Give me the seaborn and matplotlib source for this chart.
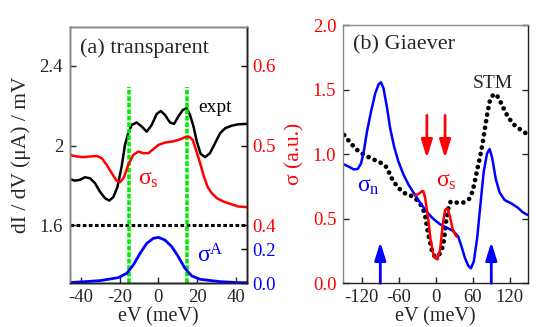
import numpy as np
import pandas as pd
import matplotlib
matplotlib.use("Agg")
import matplotlib.pyplot as plt
import seaborn as sns

# ---------------- data: panel (a) transparent ----------------
a_expt_x = [-45.5, -42.9, -40.4, -37.8, -35.2, -32.6, -30.1, -27.5, -25.3, -23.2, -21.1, -18.9,
            -17.2, -15.5, -13.7, -11.2, -8.6, -6.0, -3.4, -0.85, 1.2, 3.4, 6.0, 8.1, 10.3,
            12.6, 14.6, 16.3, 18.1, 19.8, 21.8, 24.1, 26.6, 29.2, 31.8, 34.4, 37.8, 41.2, 45.5]
a_expt_y = [1.831, 1.824, 1.828, 1.841, 1.836, 1.811, 1.769, 1.736, 1.724, 1.741, 1.791, 1.895,
            2.003, 2.062, 2.104, 2.116, 2.096, 2.070, 2.104, 2.159, 2.174, 2.154, 2.116, 2.109, 2.146,
            2.179, 2.188, 2.154, 2.096, 2.020, 1.958, 1.942, 1.962, 2.012, 2.062, 2.087, 2.100, 2.107, 2.109]

a_sigs_x = [-45.5, -42.1, -38.6, -35.2, -31.8, -29.2, -26.6, -24.0, -21.5, -19.7, -17.7, -15.5,
            -12.9, -10.3, -7.7, -5.1, -2.6, 0.0, 3.4, 6.9, 10.3, 13.8, 15.8, 17.7, 19.4, 21.5,
            23.2, 25.3, 27.5, 30.1, 33.5, 37.0, 41.2, 45.5]
a_sigs_y = [0.4883, 0.4863, 0.4855, 0.4863, 0.4870, 0.4843, 0.4758, 0.4653, 0.4560, 0.4540, 0.4603, 0.4758,
            0.4883, 0.4925, 0.4905, 0.4905, 0.4955, 0.5008, 0.5038, 0.5050, 0.5070, 0.5105, 0.5113, 0.5070,
            0.4945, 0.4780, 0.4633, 0.4485, 0.4403, 0.4340, 0.4298, 0.4268, 0.4235, 0.4228]

a_sigA_x = [-45.5, -40.4, -30.1, -20.6, -16.3, -12.9, -9.4, -6.0, -2.6, 0.0, 3.4, 6.9, 10.3,
            13.7, 17.2, 21.5, 31.8, 42.1, 45.5]
a_sigA_y = [0.003, 0.006, 0.014, 0.032, 0.057, 0.107, 0.176, 0.235, 0.265, 0.271, 0.255, 0.216, 0.156,
            0.087, 0.042, 0.022, 0.008, 0.002, 0.002]

a_gap_edges = [-15, 15]
a_baseline = 1.6
a_xticks = [-40, -20, 0, 20, 40]
a_left_ticks = [1.6, 2.0, 2.4]
a_left_ticklabels = ["1.6", "2", "2.4"]
a_red_ticks = [0.4, 0.5, 0.6]
a_blue_ticks = [0.0, 0.2]

# ---------------- data: panel (b) Giaever ----------------
b_sign_x = [-149.1, -141.1, -133.0, -126.6, -121.2, -116.9, -111.6, -105.1, -98.2, -92.8, -89.0,
            -84.8, -79.4, -74.0, -67.6, -60.6, -52.6, -44.5, -35.4, -25.8, -15.1, -4.3, 6.9, 17.6,
            28.4, 36.4, 41.8, 47.1, 52.5, 56.8, 61.6, 67.0, 72.3, 77.7, 83.1, 87.3, 91.6, 97.0,
            103.4, 111.5, 122.2, 132.9, 141.0, 149.0]
b_sign_y = [0.921, 0.903, 0.882, 0.885, 0.929, 1.019, 1.174, 1.329, 1.471, 1.541, 1.556,
            1.510, 1.368, 1.200, 1.058, 0.942, 0.844, 0.766, 0.697, 0.627, 0.555, 0.500, 0.457, 0.431,
            0.405, 0.361, 0.284, 0.198, 0.137, 0.116, 0.168, 0.348, 0.606, 0.864, 1.006, 1.040, 0.968, 0.813,
            0.704, 0.645, 0.619, 0.586, 0.550, 0.529]

b_stm_x = [-148.6, -137.9, -127.0, -115.9, -100.4, -88.0, -80.0, -71.4, -62.7, -56.9, -49.4, -41.9,
           -33.0, -26.8, -21.0, -17.2, -13.5, -10.2, -6.5, -2.0, 4.0, 9.6, 13.3, 16.6, 20.3, 24.1,
           33.7, 44.4, 54.1, 59.5, 63.2, 67.0, 71.3, 75.5, 79.3, 83.1, 87.3, 92.7, 98.1, 103.4,
           109.9, 116.8, 126.0, 134.5, 143.6, 149.0]
b_stm_y = [1.148, 1.084, 1.030, 0.993, 0.958, 0.930, 0.900, 0.813, 0.748, 0.722, 0.695, 0.684,
           0.655, 0.627, 0.580, 0.520, 0.413, 0.335, 0.258, 0.210, 0.210, 0.258, 0.335, 0.477, 0.581, 0.632,
           0.625, 0.625, 0.653, 0.710, 0.787, 0.877, 0.968, 1.071, 1.187, 1.303, 1.406, 1.458, 1.463, 1.419,
           1.355, 1.290, 1.231, 1.200, 1.169, 1.153]

b_sigs_x = [-33.8, -26.8, -22.0, -20.0, -17.2, -14.5, -11.9, -8.6, -6.5, -4.3, -1.1, 2.6, 6.9,
            11.2, 15.0, 18.7, 23.0, 27.3, 31.0, 34.0]
b_sigs_y = [0.679, 0.695, 0.715, 0.712, 0.660, 0.570, 0.480, 0.340, 0.290, 0.230, 0.195, 0.185, 0.258,
            0.452, 0.568, 0.581, 0.516, 0.420, 0.380, 0.360]

b_red_arrow_x = [-14.5, 15]
b_red_arrow_from, b_red_arrow_to = 1.30, 0.97
b_blue_arrow_x = [-90, 90]
b_blue_arrow_from, b_blue_arrow_to = 0.0, 0.32
b_xticks = [-120, -60, 0, 60, 120]
b_yticks = [0.0, 0.5, 1.0, 1.5, 2.0]

# ---------------- style ----------------
sns.set_theme(style="ticks")
plt.rcParams["font.family"] = ["Liberation Serif", "DejaVu Serif"]
plt.rcParams["mathtext.fontset"] = "custom"
plt.rcParams["mathtext.rm"] = "Liberation Serif"
plt.rcParams["mathtext.it"] = "Liberation Serif:italic"

RED = "#ff0000"
BLUE = "#0000ff"
GREEN = "#00ee00"
TICK_FS = 13.5
LAB_FS = 15.5
XLAB_FS = 14.5

fig = plt.figure(figsize=(5.45, 3.27), dpi=100)
W, H = 545, 327

def px_axes(l, t, r, b):
    return fig.add_axes([l / W, 1 - b / H, (r - l) / W, (b - t) / H])

def style_spines(a_):
    for s in a_.spines.values():
        s.set_linewidth(1.0)
        s.set_color("#222222")
    a_.spines["left"].set_color("#888888")
    a_.spines["top"].set_color("#888888")

# ---------------- panel (a) ----------------
ax = px_axes(70, 26.7, 246.7, 283)
left_lim = (1.31, 2.597)
to_red = lambda v: 0.4 + (v - 1.6) / 4.0
axr = ax.twinx()
axb = ax.twinx()

sns.lineplot(x=a_expt_x, y=a_expt_y, ax=ax, color="black", lw=1.8)
sns.lineplot(x=a_sigs_x, y=a_sigs_y, ax=axr, color=RED, lw=1.8)
sns.lineplot(x=a_sigA_x, y=a_sigA_y, ax=axb, color=BLUE, lw=2.0)

ax.axhline(a_baseline, color="black", ls=(0, (1.2, 0.8)), lw=2.2)
ax.vlines(a_gap_edges, left_lim[0], 2.296, colors=GREEN, linestyles=(0, (1.3, 0.5)), lw=2.6)

ax.set_xlim(-45.5, 45.5)
ax.set_ylim(*left_lim)
axr.set_ylim(to_red(left_lim[0]), to_red(left_lim[1]))
axb.set_ylim(0, 0.2 * 256.3 / 33.7)

ax.set_xticks(a_xticks)
ax.set_xticklabels([str(t) for t in a_xticks])
ax.set_yticks(a_left_ticks)
ax.set_yticklabels(a_left_ticklabels)
axr.set_yticks(a_red_ticks)
axr.set_yticklabels([f"{t:.1f}" for t in a_red_ticks])
axb.set_yticks(a_blue_ticks)
axb.set_yticklabels([f"{t:.1f}" for t in a_blue_ticks])

ax.tick_params(axis="both", direction="in", length=4, width=1, labelsize=TICK_FS, pad=5)
ax.tick_params(axis="x", pad=4)
axr.tick_params(axis="y", direction="in", length=4, width=1, labelsize=TICK_FS, labelcolor=RED,
                color="black", pad=4)
axb.tick_params(axis="y", direction="in", length=4, width=1, labelsize=TICK_FS, labelcolor=BLUE,
                color="black", pad=4)
for a_ in (ax, axr, axb):
    style_spines(a_)

ax.set_xlabel("eV (meV)", fontsize=XLAB_FS)
ax.xaxis.label.set_va("bottom")
ax.xaxis.set_label_coords(0.5, (283 - 326.5) / 256.3)
ax.set_ylabel("dI / dV (μA) / mV", fontsize=LAB_FS, labelpad=6)
axr.set_ylabel("")
axb.set_ylabel("")

ax.text(0.057, 0.917, "(a) transparent", transform=ax.transAxes, fontsize=16, ha="left", va="center")
ax.text(20.6, 2.189, "expt", fontsize=14, ha="left", va="center", color="black")
ax.text(-10.3, 1.828, r"$\mathregular{\sigma_s}$", fontsize=17, ha="left", va="center", color=RED)
ax.text(19.8, 1.445, r"$\mathregular{\sigma^A}$", fontsize=17, ha="left", va="center", color=BLUE)

# ---------------- panel (b) ----------------
bx = px_axes(343.3, 25, 528.3, 283.3)
sns.lineplot(x=b_stm_x, y=b_stm_y, ax=bx, color="black", lw=3.4,
             linestyle=(0, (0.01, 1.4)), dash_capstyle="round")
sns.lineplot(x=b_sign_x, y=b_sign_y, ax=bx, color=BLUE, lw=1.8)
sns.lineplot(x=b_sigs_x, y=b_sigs_y, ax=bx, color=RED, lw=1.8)

for xa in b_red_arrow_x:
    bx.annotate("", xy=(xa, b_red_arrow_to), xytext=(xa, b_red_arrow_from),
                arrowprops=dict(arrowstyle="-|>,head_length=0.9,head_width=0.28", color=RED, lw=2,
                                shrinkA=0, shrinkB=0))
for xa in b_blue_arrow_x:
    bx.annotate("", xy=(xa, b_blue_arrow_to), xytext=(xa, b_blue_arrow_from),
                arrowprops=dict(arrowstyle="-|>,head_length=0.9,head_width=0.28", color=BLUE, lw=2,
                                shrinkA=0, shrinkB=0))

bx.set_xlim(-150, 150)
bx.set_ylim(0, 2.0)
bx.set_xticks(b_xticks)
bx.set_xticklabels([str(t) for t in b_xticks])
bx.set_yticks(b_yticks)
bx.set_yticklabels([f"{t:.1f}" for t in b_yticks])
bx.tick_params(axis="both", direction="in", length=4, width=1, labelsize=TICK_FS, pad=5)
bx.tick_params(axis="x", pad=4)
bx.tick_params(axis="y", labelcolor=RED, right=True, labelright=False)
style_spines(bx)

bx.set_xlabel("eV (meV)", fontsize=XLAB_FS)
bx.xaxis.label.set_va("bottom")
bx.xaxis.set_label_coords(0.5, (283.3 - 326.5) / 258.3)
bx.set_ylabel("σ (a.u.)", fontsize=LAB_FS, color=RED, labelpad=6)

bx.text(0.054, 0.922, "(b) Giaever", transform=bx.transAxes, fontsize=16, ha="left", va="center")
bx.text(92, 1.55, "STM", fontsize=14, ha="center", va="center")
bx.text(-128, 0.748, r"$\mathregular{\sigma_n}$", fontsize=17, ha="left", va="center", color=BLUE)
bx.text(0, 0.79, r"$\mathregular{\sigma_s}$", fontsize=17, ha="left", va="center", color=RED)

fig.savefig("out.png", dpi=100)
